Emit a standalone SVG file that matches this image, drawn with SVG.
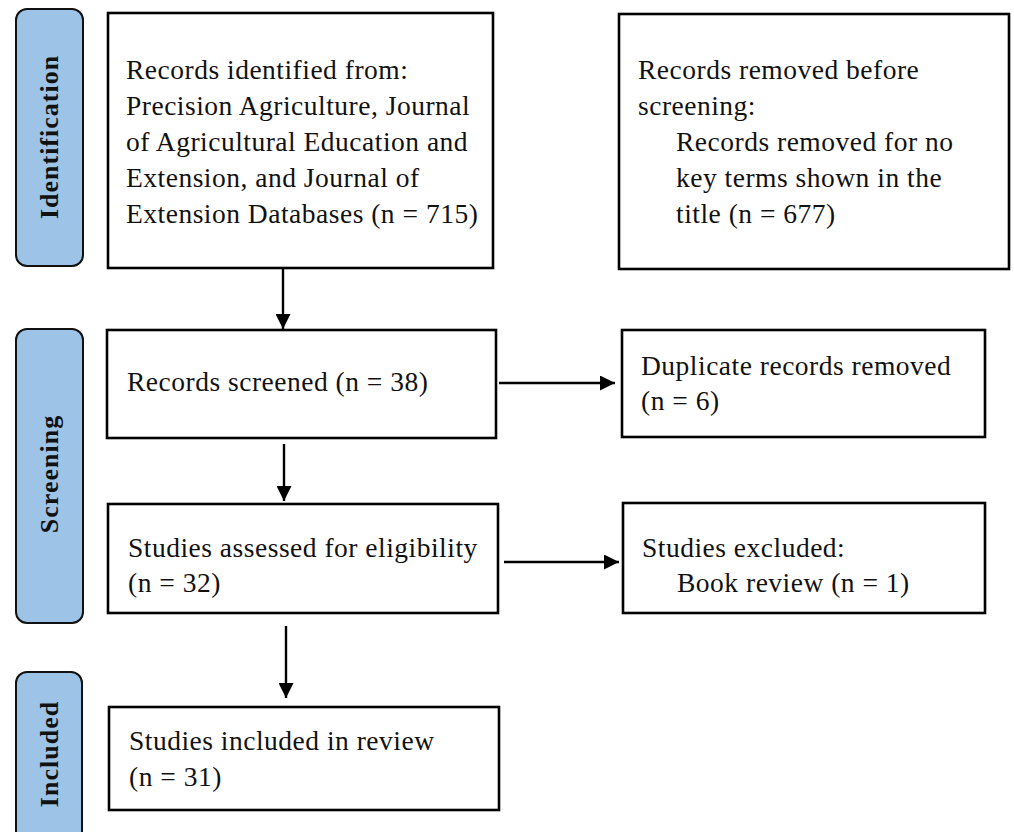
<svg xmlns="http://www.w3.org/2000/svg" width="1014" height="832" viewBox="0 0 1014 832">
<defs>
<style>
.pill{fill:#9dc3e6;stroke:#111;stroke-width:2}
.box{fill:#fff;stroke:#000;stroke-width:2.6}
.t{font-family:"Liberation Serif","Times New Roman",serif;font-size:27.5px;letter-spacing:0.5px;fill:#111}
.pt{font-family:"Liberation Serif","Times New Roman",serif;font-size:26px;font-weight:bold;letter-spacing:1px;fill:#111;text-anchor:middle}
.c{stroke:#000;stroke-width:2.4;fill:none}
</style>
<marker id="ah" markerWidth="15" markerHeight="15" viewBox="0 0 15 15" refX="15" refY="7.5" orient="auto" markerUnits="userSpaceOnUse">
<path d="M0,0 L15,7.5 L0,15 Z" fill="#000"/>
</marker>
</defs>
<rect width="1014" height="832" fill="#fff"/>

<g id="stage-identification">
<rect class="pill" x="16" y="9" width="67" height="257" rx="11"/>
<text class="pt" transform="translate(58,137) rotate(-90)">Identification</text>
</g>
<g id="stage-screening">
<rect class="pill" x="16" y="329" width="67" height="294" rx="11"/>
<text class="pt" transform="translate(58,474) rotate(-90)">Screening</text>
</g>
<g id="stage-included">
<rect class="pill" x="16" y="672" width="66" height="170" rx="11"/>
<text class="pt" transform="translate(58,754) rotate(-90)">Included</text>
</g>

<g id="records-identified">
<rect class="box" x="108" y="13" width="385" height="255"/>
<text class="t" x="126" y="79">Records identified from:</text>
<text class="t" x="126" y="115">Precision Agriculture, Journal</text>
<text class="t" x="126" y="151">of Agricultural Education and</text>
<text class="t" x="126" y="187">Extension, and Journal of</text>
<text class="t" x="126" y="223">Extension Databases (n = 715)</text>
</g>

<g id="records-removed">
<rect class="box" x="619" y="14" width="390" height="255"/>
<text class="t" x="638" y="79">Records removed before</text>
<text class="t" x="638" y="115">screening:</text>
<text class="t" x="676" y="151">Records removed for no</text>
<text class="t" x="676" y="187">key terms shown in the</text>
<text class="t" x="676" y="223">title (n = 677)</text>
</g>

<g id="records-screened">
<rect class="box" x="107" y="330" width="389" height="108"/>
<text class="t" x="127" y="391">Records screened (n = 38)</text>
</g>

<g id="duplicates-removed">
<rect class="box" x="622" y="330" width="363" height="107"/>
<text class="t" x="641" y="375">Duplicate records removed</text>
<text class="t" x="641" y="410">(n = 6)</text>
</g>

<g id="studies-assessed">
<rect class="box" x="108" y="504" width="390" height="109"/>
<text class="t" x="128" y="557">Studies assessed for eligibility</text>
<text class="t" x="128" y="592">(n = 32)</text>
</g>

<g id="studies-excluded">
<rect class="box" x="623" y="503" width="362" height="110"/>
<text class="t" x="642" y="557">Studies excluded:</text>
<text class="t" x="677" y="592">Book review (n = 1)</text>
</g>

<g id="studies-included">
<rect class="box" x="109" y="707" width="390" height="103"/>
<text class="t" x="129" y="750">Studies included in review</text>
<text class="t" x="129" y="786">(n = 31)</text>
</g>

<g id="connectors">
<line class="c" x1="283" y1="268" x2="283" y2="329" marker-end="url(#ah)"/>
<line class="c" x1="499" y1="383" x2="615" y2="383" marker-end="url(#ah)"/>
<line class="c" x1="284" y1="444" x2="284" y2="501" marker-end="url(#ah)"/>
<line class="c" x1="504" y1="562" x2="619" y2="562" marker-end="url(#ah)"/>
<line class="c" x1="286" y1="626" x2="286" y2="698" marker-end="url(#ah)"/>
</g>
</svg>
